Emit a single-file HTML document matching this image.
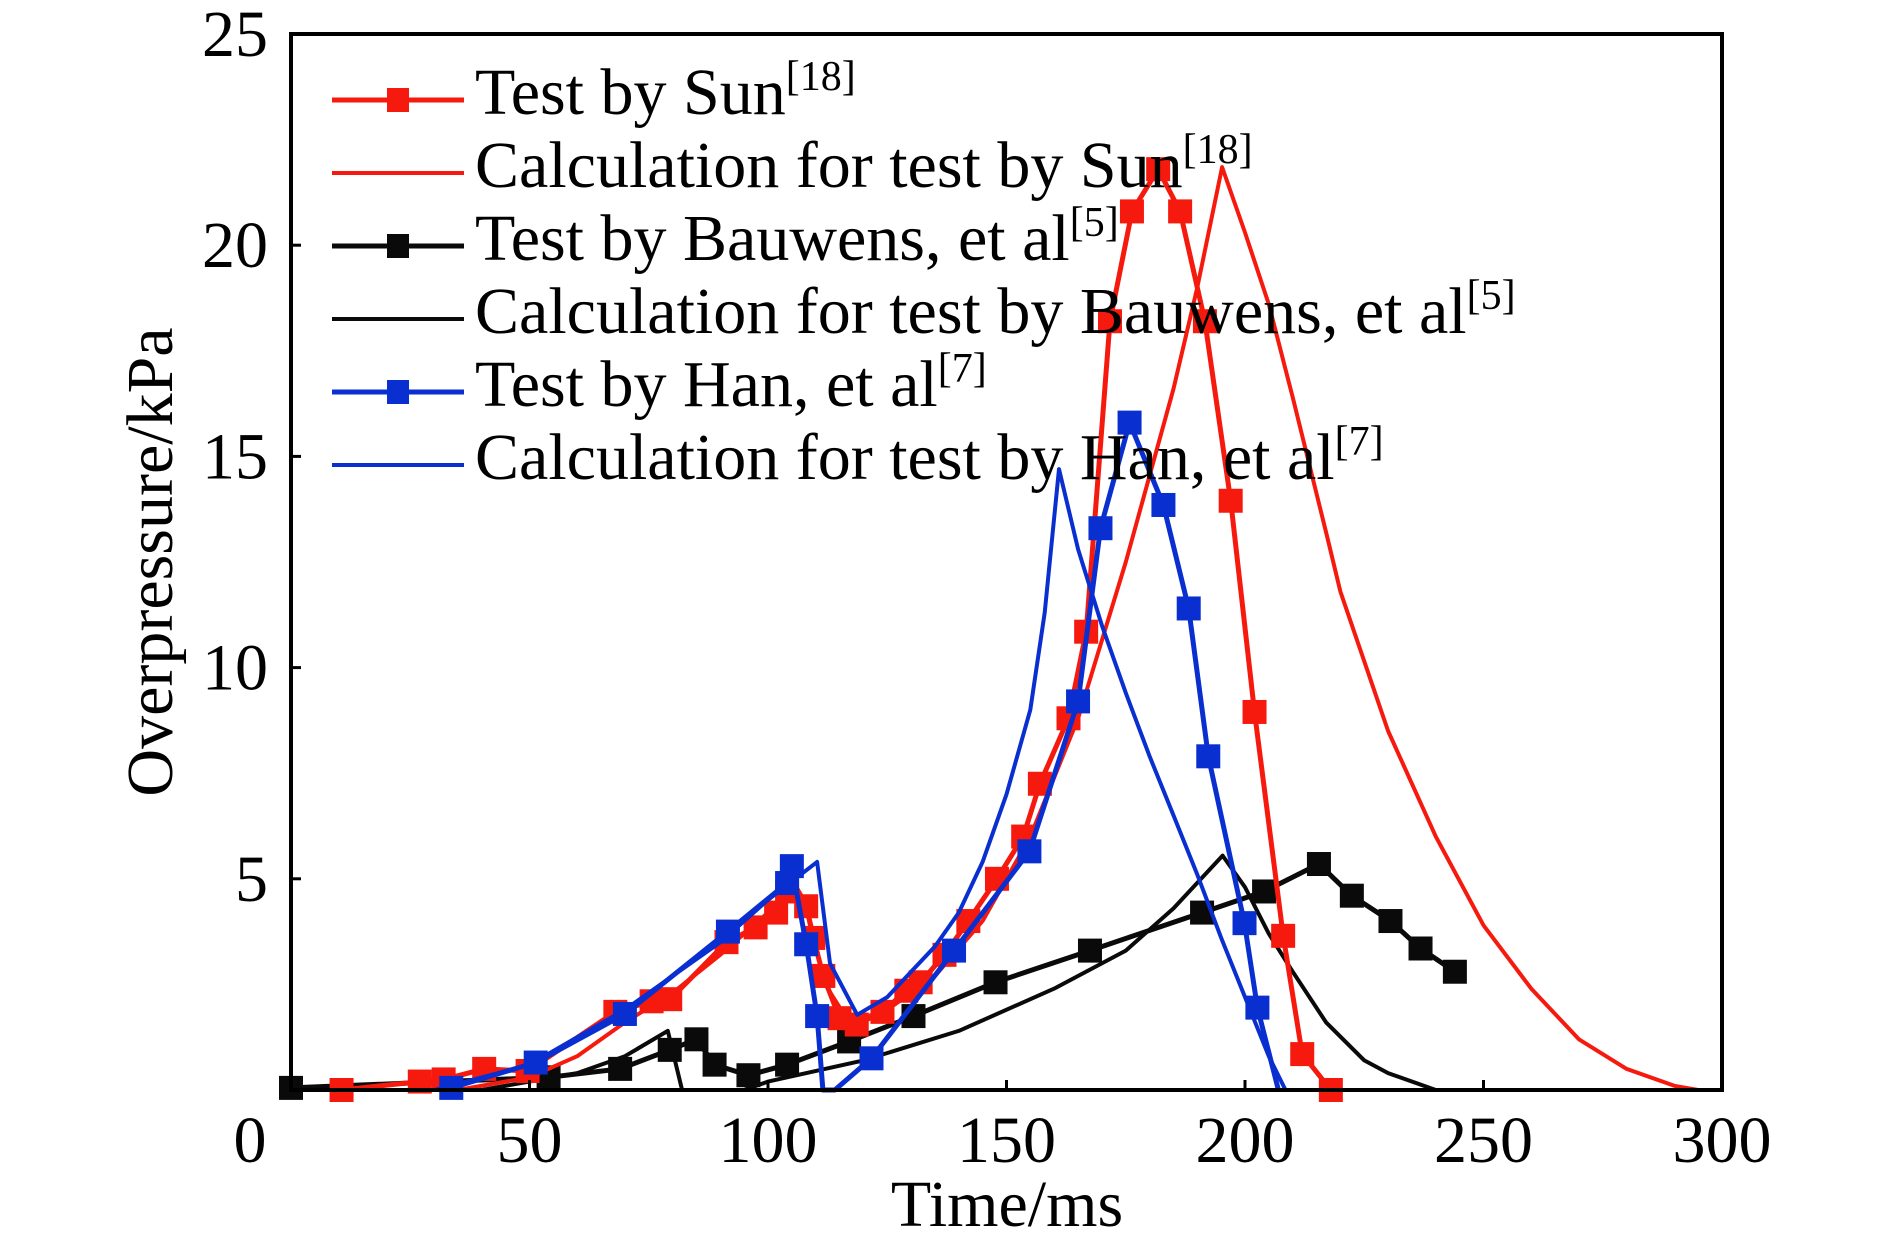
<!DOCTYPE html>
<html><head><meta charset="utf-8">
<style>
html,body{margin:0;padding:0;background:#fff;}
svg{display:block;}
text{font-family:"Liberation Serif",serif;fill:#000;}
</style></head>
<body>
<svg id="chart" width="1890" height="1252" viewBox="0 0 1890 1252" xmlns="http://www.w3.org/2000/svg">
<g id="marks"></g>
<rect x="291" y="34" width="1431" height="1056" fill="none" stroke="#000" stroke-width="4"/>
<g id="ticks"></g>
<text x="1007" y="1226" font-size="66" text-anchor="middle">Time/ms</text>
<text transform="translate(172,562) rotate(-90)" font-size="66" text-anchor="middle">Overpressure/kPa</text>
<g id="legend"></g>
</svg>
<script>
const xTicks=[0,50,100,150,200,250,300];
const yTicks=[5,10,15,20,25];
const sunTestT=[10.6,27,32,40.5,49.6,68,75.6,79.5,91.3,97.4,101.7,104,108,109.5,111.6,115,118.6,124,129,132,137,142,148,153.5,157,163,166.7,171.7,176.3,181.8,186.4,191.6,197,202,208,212,218];
const sunTestP=[0,0.2,0.25,0.5,0.45,1.85,2.1,2.15,3.5,3.85,4.2,4.7,4.35,3.6,2.7,1.7,1.55,1.85,2.35,2.55,3.2,4.0,5.0,6.0,7.25,8.8,10.85,18.2,20.8,21.8,20.8,18.2,13.95,8.95,3.65,0.85,0];
const sunCalcT=[0,35,50,60,70,80,90,100,106,108,112,117,125,135,145,155,165,175,185,190,195.2,200,205,210,217,220,230,240,250,260,270,280,290,295];
const sunCalcP=[0,0,0.3,0.8,1.6,2.3,3.2,4.2,4.8,4.4,2.5,1.6,1.9,2.7,4.0,6.0,8.8,12.5,16.6,19.0,21.85,20.3,18.6,16.4,13.2,11.8,8.5,6.0,3.9,2.4,1.2,0.5,0.1,0];
const bauTestT=[0,54,69,79.4,85,88.8,95.9,104,117,130.5,147.7,167.5,191,204,215.5,222.4,230.5,236.8,244];
const bauTestP=[0.05,0.3,0.5,0.95,1.2,0.6,0.35,0.6,1.15,1.75,2.55,3.3,4.2,4.7,5.35,4.6,4.0,3.35,2.8];
const bauCalcT=[0,40,60,70,79,82,95,100,120,140,160,175,185,195.3,200,205,210,217,225,230,240];
const bauCalcP=[0,0,0.4,0.8,1.4,0,0,0.2,0.7,1.4,2.4,3.3,4.3,5.55,4.8,3.7,2.8,1.6,0.7,0.4,0];
const hanTestT=[33.6,51.3,70,91.6,104,105,108,110.3,111.5,114,121.7,139,154.8,165,169.7,175.8,182.9,188.2,192.3,199.9,202.6,207];
const hanTestP=[0.05,0.65,1.8,3.75,4.9,5.3,3.45,1.75,0,0,0.75,3.3,5.65,9.2,13.3,15.8,13.85,11.4,7.9,3.95,1.95,0];
const hanCalcT=[0,30,50,70,90,100,110.3,113,118.7,125,130,135,140,145,150,155,158,161,165,170,175,180,185,190,195,200,205,208.5];
const hanCalcP=[0,0,0.6,1.9,3.5,4.5,5.4,3.0,1.78,2.2,2.8,3.4,4.2,5.4,7.0,9.0,11.3,14.7,12.8,11.0,9.4,7.9,6.5,5.1,3.6,2.2,0.8,0];
const hanTestMarkT=hanTestT.filter((t,i)=>!(i===8||i===9||i===21));
const hanTestMarkP=hanTestP.filter((t,i)=>!(i===8||i===9||i===21));

const X0=291,X1=1722,Y0=1090,Y1=34;
function xs(t){return X0+(t/300)*(X1-X0);}
function ys(p){return Y0-(p/25)*(Y0-Y1);}
const NS="http://www.w3.org/2000/svg";
const marks=document.getElementById('marks');
function pathD(T,P){
  const pts=T.map((t,i)=>[xs(t),ys(P[i])]);
  let d='M'+pts[0][0].toFixed(1)+','+pts[0][1].toFixed(1);
  for(let i=1;i<pts.length;i++) d+=' L'+pts[i][0].toFixed(1)+','+pts[i][1].toFixed(1);
  return d;
}
function line(T,P,color,w,name){
  const pl=document.createElementNS(NS,'path');
  pl.setAttribute('d',pathD(T,P));
  pl.setAttribute('fill','none');pl.setAttribute('stroke',color);pl.setAttribute('stroke-width',w);pl.setAttribute('stroke-linejoin','round');
  
  
  marks.appendChild(pl);
}
function squares(T,P,color,name){
  T.forEach((t,i)=>{
    const r=document.createElementNS(NS,'rect');
    r.setAttribute('x',xs(t)-12);r.setAttribute('y',ys(P[i])-12);r.setAttribute('width',24);r.setAttribute('height',24);r.setAttribute('fill',color);
    
    
    marks.appendChild(r);
  });
}
const RED='#f61a0e',BLK='#0a0a0a',BLU='#0a2fd0';
line(bauCalcT,bauCalcP,BLK,4,'bauwens-calc-line');
line(bauTestT,bauTestP,BLK,5,'bauwens-test-line');
squares(bauTestT,bauTestP,BLK,'bauwens-test-point');
line(sunCalcT,sunCalcP,RED,4,'sun-calc-line');
line(sunTestT,sunTestP,RED,5,'sun-test-line');
squares(sunTestT,sunTestP,RED,'sun-test-point');
line(hanCalcT,hanCalcP,BLU,4,'han-calc-line');
line(hanTestT,hanTestP,BLU,5,'han-test-line');
squares(hanTestMarkT,hanTestMarkP,BLU,'han-test-point');

const ticks=document.getElementById('ticks');
xTicks.forEach(v=>{
  const tk=document.createElementNS(NS,'line');
  tk.setAttribute('x1',xs(v));tk.setAttribute('x2',xs(v));tk.setAttribute('y1',Y0);tk.setAttribute('y2',Y0-10);tk.setAttribute('stroke','#000');tk.setAttribute('stroke-width',3);
  
  
  ticks.appendChild(tk);
  const tx=document.createElementNS(NS,'text');
  tx.setAttribute('x',v===0?250:xs(v));tx.setAttribute('y',1162);tx.setAttribute('font-size',66);tx.setAttribute('text-anchor','middle');
  tx.textContent=v;
  
  
  ticks.appendChild(tx);
});
yTicks.forEach(v=>{
  const tk=document.createElementNS(NS,'line');
  tk.setAttribute('x1',X0);tk.setAttribute('x2',X0+10);tk.setAttribute('y1',ys(v));tk.setAttribute('y2',ys(v));tk.setAttribute('stroke','#000');tk.setAttribute('stroke-width',3);
  
  
  ticks.appendChild(tk);
  const tx=document.createElementNS(NS,'text');
  tx.setAttribute('x',268);tx.setAttribute('y',ys(v)+22);tx.setAttribute('font-size',66);tx.setAttribute('text-anchor','end');
  tx.textContent=v;
  
  
  ticks.appendChild(tx);
});

const legLabels=[['Test by Sun','[18]'],['Calculation for test by Sun','[18]'],['Test by Bauwens, et al','[5]'],['Calculation for test by Bauwens, et al','[5]'],['Test by Han, et al','[7]'],['Calculation for test by Han, et al','[7]']];
const legColors=[RED,RED,BLK,BLK,BLU,BLU];
const leg=document.getElementById('legend');
legLabels.forEach((lb,i)=>{
  const y=100+i*73;
  const g=document.createElementNS(NS,'g');
  
  
  const ln=document.createElementNS(NS,'line');
  ln.setAttribute('x1',332);ln.setAttribute('x2',464);ln.setAttribute('y1',y);ln.setAttribute('y2',y);ln.setAttribute('stroke',legColors[i]);ln.setAttribute('stroke-width',i%2===0?5:4);
  g.appendChild(ln);
  if(i%2===0){
    const r=document.createElementNS(NS,'rect');
    r.setAttribute('x',387);r.setAttribute('y',y-12);r.setAttribute('width',22);r.setAttribute('height',24);r.setAttribute('fill',legColors[i]);
    g.appendChild(r);
  }
  const tx=document.createElementNS(NS,'text');
  tx.setAttribute('x',475);tx.setAttribute('y',y+14);tx.setAttribute('font-size',66);
  tx.appendChild(document.createTextNode(lb[0]));
  const sp=document.createElementNS(NS,'tspan');
  sp.setAttribute('font-size',42);sp.setAttribute('dy',-24);
  sp.textContent=lb[1];
  tx.appendChild(sp);
  g.appendChild(tx);
  leg.appendChild(g);
});
</script>
</body></html>
